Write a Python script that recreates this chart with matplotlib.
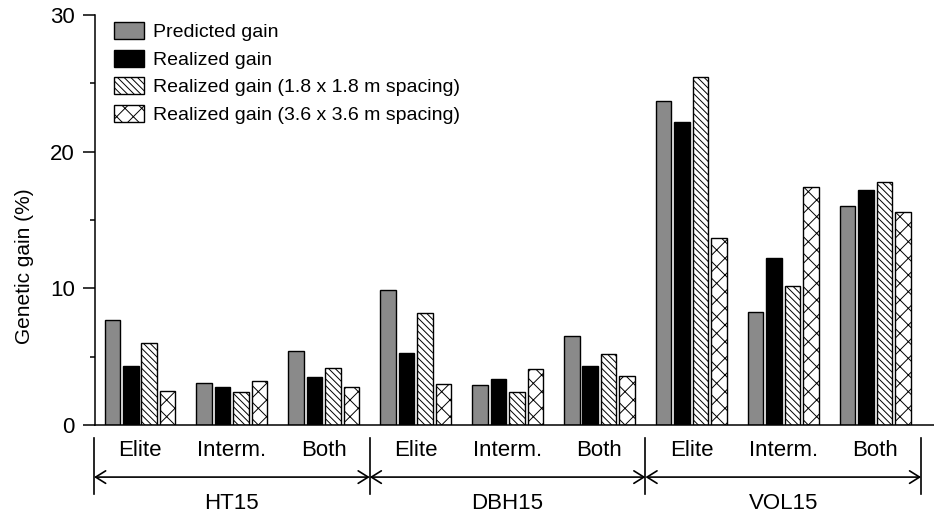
import matplotlib.pyplot as plt
import numpy as np
from matplotlib.ticker import MultipleLocator

plt.rcParams['font.family'] = ['Liberation Sans', 'DejaVu Sans']
plt.rcParams['hatch.linewidth'] = 0.7

# Data
traits = ['HT15', 'DBH15', 'VOL15']
populations = ['Elite', 'Interm.', 'Both']
series_names = ['Predicted gain',
                'Realized gain',
                'Realized gain (1.8 x 1.8 m spacing)',
                'Realized gain (3.6 x 3.6 m spacing)']

predicted = [7.7, 3.1, 5.4, 9.9, 2.9, 6.5, 23.7, 8.3, 16.0]
realized = [4.3, 2.8, 3.5, 5.3, 3.4, 4.3, 22.2, 12.2, 17.2]
realized_18 = [6.0, 2.4, 4.2, 8.2, 2.4, 5.2, 25.5, 10.2, 17.8]
realized_36 = [2.5, 3.2, 2.8, 3.0, 4.1, 3.6, 13.7, 17.4, 15.6]

values = [predicted, realized, realized_18, realized_36]
colors = ['#8a8a8a', 'black', 'white', 'white']
hatches = [None, None, '\\\\\\\\\\', 'xx']

fig = plt.figure(figsize=(9.34, 5.18), dpi=100)
ax = fig.add_axes([0.1017, 0.1795, 0.8983, 0.7915])

x = np.arange(len(traits) * len(populations))
step = 0.201
width = 0.169
offsets = (np.arange(4) - 1.5) * step

for vals, col, h, name, off in zip(values, colors, hatches, series_names, offsets):
    ax.bar(x + off, vals, width, color=col, edgecolor='black', linewidth=1.0,
           hatch=h, label=name)

ax.set_xlim(-0.49, 8.64)
ax.set_ylim(0, 30)
ax.yaxis.set_major_locator(MultipleLocator(10))
ax.yaxis.set_minor_locator(MultipleLocator(5))
ax.tick_params(axis='y', which='major', length=8.6, width=1.1, labelsize=16, pad=6)
ax.tick_params(axis='y', which='minor', length=3.6, width=1.1)
ax.set_xticks([])
for s in ['top', 'right']:
    ax.spines[s].set_visible(False)
ax.spines['left'].set_linewidth(1.1)
ax.spines['bottom'].set_linewidth(1.1)

ax.set_ylabel('Genetic gain (%)', fontsize=15, va='center')
ax.yaxis.set_label_coords(-0.0846, 0.388)

# category labels and group brackets under the axis
trans = ax.get_xaxis_transform()
for i in range(len(x)):
    ax.text(x[i], -0.061, populations[i % 3], transform=trans,
            ha='center', va='center', fontsize=16)

bounds = [-0.5, 2.5, 5.5, 8.5]
for b in bounds:
    ax.plot([b, b], [-0.0317, -0.168], transform=trans, color='black',
            lw=1.2, clip_on=False)
for j, name in enumerate(traits):
    ax.annotate('', xy=(bounds[j], -0.127), xytext=(bounds[j + 1], -0.127),
                xycoords=trans, textcoords=trans,
                arrowprops=dict(arrowstyle='<->,head_length=0.4,head_width=0.25',
                                mutation_scale=18, lw=1.2, color='black',
                                shrinkA=0, shrinkB=0))
    ax.text((bounds[j] + bounds[j + 1]) / 2, -0.191, name, transform=trans,
            ha='center', va='center', fontsize=16)

ax.legend(loc='upper left', bbox_to_anchor=(0.0226, 0.983), frameon=False,
          fontsize=14, borderaxespad=0, borderpad=0, handlelength=1.54,
          handleheight=1.0, handletextpad=0.46, labelspacing=0.42)

fig.savefig('out.png', dpi=100)
